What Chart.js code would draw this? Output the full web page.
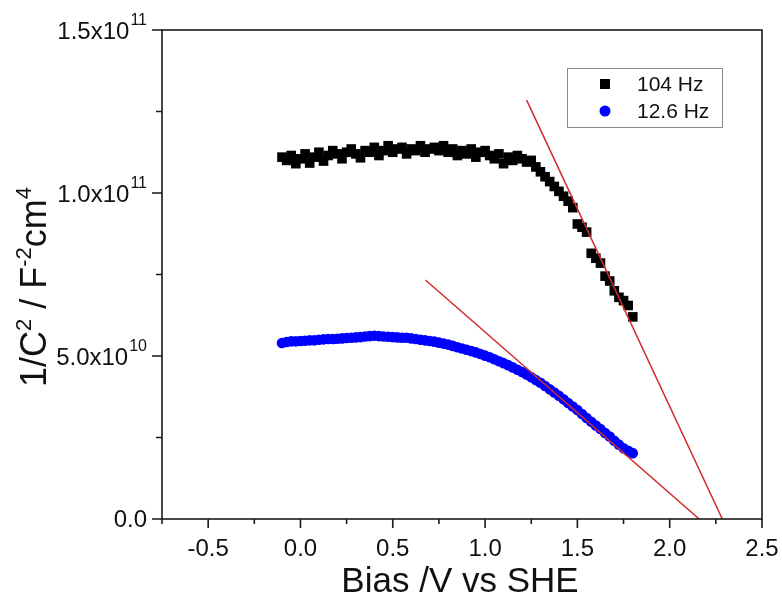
<!DOCTYPE html>
<html>
<head>
<meta charset="utf-8">
<script src="https://cdn.jsdelivr.net/npm/chart.js@4.4.1/dist/chart.umd.min.js"></script>
<style>
  html, body { margin: 0; padding: 0; background: #fff; }
  #wrap { width: 782px; height: 608px; position: relative; }
</style>
</head>
<body>
<div id="wrap"><canvas id="myChart" width="782" height="608"></canvas></div>
<script>
// bias values (V vs SHE), shared by both frequency sweeps
const bias = [
  -0.100, -0.075, -0.050, -0.025, 0.000, 0.025, 0.050, 0.075, 0.100, 0.125,
  0.150, 0.175, 0.200, 0.225, 0.250, 0.275, 0.300, 0.325, 0.350, 0.375,
  0.400, 0.425, 0.450, 0.475, 0.500, 0.525, 0.550, 0.575, 0.600, 0.625,
  0.650, 0.675, 0.700, 0.725, 0.750, 0.775, 0.800, 0.825, 0.850, 0.875,
  0.900, 0.925, 0.950, 0.975, 1.000, 1.025, 1.050, 1.075, 1.100, 1.125,
  1.150, 1.175, 1.200, 1.225, 1.250, 1.275, 1.300, 1.325, 1.350, 1.375,
  1.400, 1.425, 1.450, 1.475, 1.500, 1.525, 1.550, 1.575, 1.600, 1.625,
  1.650, 1.675, 1.700, 1.725, 1.750, 1.775, 1.800
];

// 1/C^2 at 104 Hz
const mott104 = [
  1.110e11, 1.100e11, 1.115e11, 1.090e11, 1.105e11, 1.120e11, 1.092e11, 1.110e11, 1.125e11, 1.098e11,
  1.115e11, 1.130e11, 1.120e11, 1.105e11, 1.125e11, 1.135e11, 1.120e11, 1.108e11, 1.130e11, 1.125e11,
  1.140e11, 1.115e11, 1.130e11, 1.145e11, 1.125e11, 1.135e11, 1.140e11, 1.120e11, 1.135e11, 1.130e11,
  1.145e11, 1.125e11, 1.135e11, 1.140e11, 1.130e11, 1.145e11, 1.125e11, 1.135e11, 1.115e11, 1.130e11,
  1.120e11, 1.135e11, 1.110e11, 1.125e11, 1.130e11, 1.115e11, 1.105e11, 1.120e11, 1.090e11, 1.110e11,
  1.100e11, 1.115e11, 1.105e11, 1.095e11, 1.100e11, 1.080e11, 1.065e11, 1.050e11, 1.035e11, 1.020e11,
  1.005e11, 0.990e11, 0.975e11, 0.955e11, 0.905e11, 0.895e11, 0.880e11, 0.815e11, 0.800e11, 0.785e11,
  0.745e11, 0.730e11, 0.700e11, 0.680e11, 0.670e11, 0.655e11, 0.620e11
];

// 1/C^2 at 12.6 Hz
const mott126 = [
  0.540e11, 0.543e11, 0.545e11, 0.545e11, 0.546e11, 0.547e11, 0.548e11, 0.548e11, 0.550e11, 0.551e11,
  0.552e11, 0.552e11, 0.553e11, 0.554e11, 0.555e11, 0.556e11, 0.557e11, 0.558e11, 0.560e11, 0.561e11,
  0.562e11, 0.561e11, 0.560e11, 0.559e11, 0.558e11, 0.557e11, 0.556e11, 0.556e11, 0.554e11, 0.552e11,
  0.550e11, 0.548e11, 0.546e11, 0.544e11, 0.541e11, 0.538e11, 0.535e11, 0.531e11, 0.527e11, 0.523e11,
  0.519e11, 0.515e11, 0.511e11, 0.506e11, 0.501e11, 0.496e11, 0.490e11, 0.484e11, 0.478e11, 0.472e11,
  0.465e11, 0.458e11, 0.451e11, 0.443e11, 0.435e11, 0.426e11, 0.418e11, 0.408e11, 0.398e11, 0.388e11,
  0.378e11, 0.367e11, 0.356e11, 0.345e11, 0.334e11, 0.322e11, 0.310e11, 0.298e11, 0.287e11, 0.276e11,
  0.264e11, 0.253e11, 0.240e11, 0.228e11, 0.217e11, 0.209e11, 0.202e11
];

// linear fits (end points), red lines
const fit104X = [1.225, 2.285];
const fit104Y = [1.285e11, 0];
const fit126X = [0.677, 2.160];
const fit126Y = [0.733e11, 0];

const seriesNames = ["104 Hz", "12.6 Hz"];

// axis ticks
const xMajor = [-0.5, 0.0, 0.5, 1.0, 1.5, 2.0, 2.5];
const xMinor = [-0.75, -0.25, 0.25, 0.75, 1.25, 1.75, 2.25];
const xLabels = ["-0.5", "0.0", "0.5", "1.0", "1.5", "2.0", "2.5"];
const yMajor = [0, 5e10, 1e11, 1.5e11];
const yMinor = [2.5e10, 7.5e10, 1.25e11];
const yLabels = ["0.0", "5.0x10", "1.0x10", "1.5x10"];
const yExps = ["", "10", "11", "11"];

const FONT = "'Liberation Sans', Arial, sans-serif";

function pts(xs, ys) {
  return xs.map((v, i) => ({ x: v, y: ys[i] }));
}

// frame, ticks, labels, titles and legend drawn on top of the library scales
const decor = {
  id: 'decor',
  afterDraw(chart) {
    const ctx = chart.ctx;
    const a = chart.chartArea;
    const x = chart.scales.x, y = chart.scales.y;
    ctx.save();
    ctx.strokeStyle = '#1a1a1a';
    ctx.lineWidth = 1.6;
    ctx.strokeRect(a.left, a.top, a.right - a.left, a.bottom - a.top);

    ctx.beginPath();
    xMajor.forEach(v => { const p = x.getPixelForValue(v); ctx.moveTo(p, a.bottom); ctx.lineTo(p, a.bottom + 9); });
    xMinor.forEach(v => { const p = x.getPixelForValue(v); ctx.moveTo(p, a.bottom); ctx.lineTo(p, a.bottom + 5); });
    yMajor.forEach(v => { const p = y.getPixelForValue(v); ctx.moveTo(a.left, p); ctx.lineTo(a.left - 10, p); });
    yMinor.forEach(v => { const p = y.getPixelForValue(v); ctx.moveTo(a.left, p); ctx.lineTo(a.left - 6, p); });
    ctx.stroke();

    ctx.fillStyle = '#111';
    ctx.font = '24px ' + FONT;
    ctx.textAlign = 'center';
    ctx.textBaseline = 'middle';
    xMajor.forEach((v, i) => ctx.fillText(xLabels[i], x.getPixelForValue(v), a.bottom + 30));

    yMajor.forEach((v, i) => {
      const p = y.getPixelForValue(v);
      ctx.textAlign = 'right';
      if (yExps[i]) {
        ctx.font = '16px ' + FONT;
        ctx.fillText(yExps[i], a.left - 15, p - 9);
        const w = ctx.measureText(yExps[i]).width;
        ctx.font = '24px ' + FONT;
        ctx.fillText(yLabels[i], a.left - 16 - w, p + 2);
      } else {
        ctx.font = '24px ' + FONT;
        ctx.fillText(yLabels[i], a.left - 15, p + 1);
      }
    });

    // x title
    ctx.font = '35px ' + FONT;
    ctx.textAlign = 'center';
    ctx.fillText('Bias /V vs SHE', (a.left + a.right) / 2 - 2, 582);

    // y title with superscripts
    ctx.save();
    ctx.translate(46, 287);
    ctx.rotate(-Math.PI / 2);
    ctx.textBaseline = 'alphabetic';
    const parts = [['1/C', 0], ['2', 1], [' / F', 0], ['-2', 1], ['cm', 0], ['4', 1]];
    let total = 0;
    parts.forEach(p => { ctx.font = (p[1] ? '22px ' : '36px ') + FONT; total += ctx.measureText(p[0]).width; });
    let cx = -total / 2;
    ctx.textAlign = 'left';
    parts.forEach(p => {
      ctx.font = (p[1] ? '22px ' : '36px ') + FONT;
      ctx.fillText(p[0], cx, p[1] ? -15 : 0);
      cx += ctx.measureText(p[0]).width;
    });
    ctx.restore();

    // legend
    ctx.strokeStyle = '#8a8a8a';
    ctx.lineWidth = 1;
    ctx.strokeRect(567.5, 68.5, 155, 59);
    ctx.fillStyle = '#000';
    ctx.fillRect(600, 79, 10, 10);
    ctx.fillStyle = '#0000ff';
    ctx.beginPath();
    ctx.arc(605, 111, 5.5, 0, Math.PI * 2);
    ctx.fill();
    ctx.fillStyle = '#111';
    ctx.font = '21px ' + FONT;
    ctx.textAlign = 'left';
    ctx.fillText(seriesNames[0], 637, 85);
    ctx.fillText(seriesNames[1], 637, 112);
    ctx.restore();
  }
};

const ctx = document.getElementById('myChart').getContext('2d');
const myChart = new Chart(ctx, {
  type: 'scatter',
  data: {
    datasets: [
      {
        label: 'fit 104 Hz',
        data: pts(fit104X, fit104Y),
        showLine: true,
        borderColor: '#d42a2a',
        borderWidth: 1.5,
        pointRadius: 0,
        order: 0
      },
      {
        label: 'fit 12.6 Hz',
        data: pts(fit126X, fit126Y),
        showLine: true,
        borderColor: '#d42a2a',
        borderWidth: 1.5,
        pointRadius: 0,
        order: 0
      },
      {
        label: seriesNames[0],
        data: pts(bias, mott104),
        pointStyle: 'rect',
        pointRadius: 6.8,
        backgroundColor: '#000',
        borderColor: '#000',
        borderWidth: 0,
        order: 2
      },
      {
        label: seriesNames[1],
        data: pts(bias, mott126),
        pointStyle: 'circle',
        pointRadius: 5.3,
        backgroundColor: '#0000ff',
        borderColor: '#0000ff',
        borderWidth: 0,
        order: 1
      }
    ]
  },
  options: {
    responsive: false,
    animation: false,
    devicePixelRatio: 1,
    layout: { padding: { top: 30, right: 20, left: 0, bottom: 0 } },
    plugins: { legend: { display: false }, tooltip: { enabled: false } },
    scales: {
      x: {
        type: 'linear',
        min: -0.75,
        max: 2.5,
        grid: { display: false },
        border: { display: false },
        ticks: { display: false },
        afterFit: s => { s.height = 89; }
      },
      y: {
        type: 'linear',
        min: 0,
        max: 1.5e11,
        grid: { display: false },
        border: { display: false },
        ticks: { display: false },
        afterFit: s => { s.width = 162; }
      }
    }
  },
  plugins: [decor]
});
</script>
</body>
</html>
